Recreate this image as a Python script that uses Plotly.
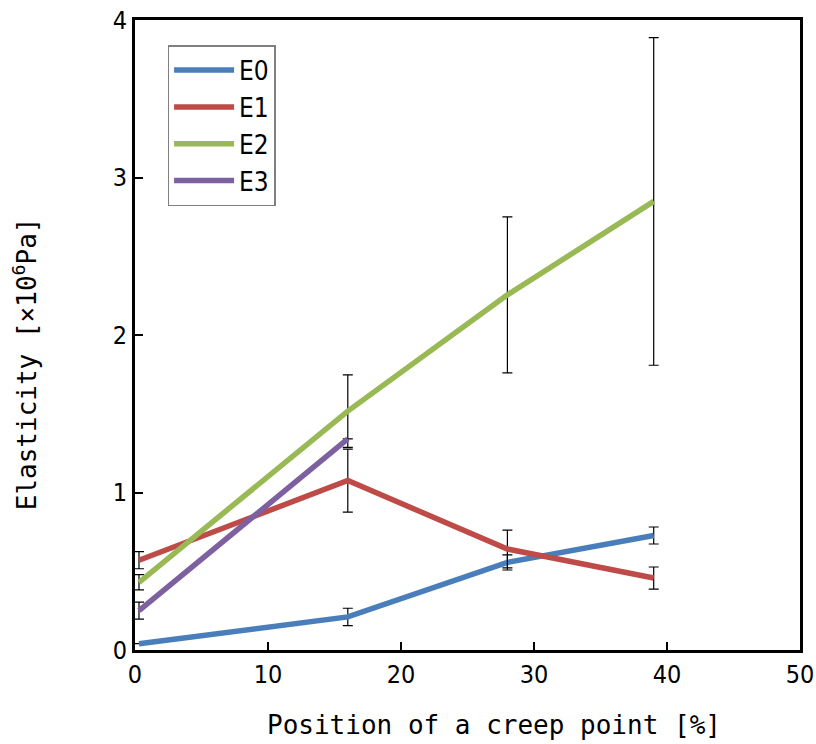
import plotly.graph_objects as go

# Elastic moduli at each creep-point position (values in 10^6 Pa)
positions = [0.3, 16, 28, 39]
positions_e3 = [0.3, 16]

e0 = [0.04, 0.21, 0.556, 0.727]
e0_err = [0.0, 0.055, 0.048, 0.054]

e1 = [0.57, 1.076, 0.641, 0.457]
e1_err = [0.054, 0.20, 0.12, 0.07]

e2 = [0.43, 1.517, 2.255, 2.848]
e2_err = [0.048, 0.23, 0.495, 1.04]

e3 = [0.25, 1.34]
e3_err = [0.054, 0.0]

series = [
    ("E0", positions, e0, e0_err, "#4A7EBB"),
    ("E1", positions, e1, e1_err, "#BE4B48"),
    ("E2", positions, e2, e2_err, "#98B954"),
    ("E3", positions_e3, e3, e3_err, "#7D60A0"),
]

x_ticks = [0, 10, 20, 30, 40, 50]
y_ticks = [0, 1, 2, 3, 4]

x_title = "Position of a creep point [%]"
y_title = "Elasticity [×10<sup>6</sup>Pa]"

tick_font = dict(family="Liberation Sans Narrow, DejaVu Sans Condensed, sans-serif", size=25, color="black")
title_font = dict(family="DejaVu Sans Mono, Liberation Mono, monospace", size=26, color="black")

fig = go.Figure()
for name, xs, ys, errs, color in series:
    fig.add_trace(go.Scatter(
        x=xs, y=ys, name=name, mode="lines",
        line=dict(color=color, width=5.5),
        error_y=dict(type="data", array=errs, visible=True,
                     color="black", thickness=1.2, width=5),
    ))

fig.update_layout(
    width=816, height=744,
    margin=dict(l=135, r=16, t=20, b=94, autoexpand=False),
    paper_bgcolor="white", plot_bgcolor="white",
    showlegend=True,
    legend=dict(
        x=0.049, y=0.96, xanchor="left", yanchor="top",
        bgcolor="white", bordercolor="#7f7f7f", borderwidth=1.5,
        font=dict(family="Liberation Sans Narrow, DejaVu Sans Condensed, sans-serif", size=26, color="black"),
        itemwidth=60,
    ),
    annotations=[
        dict(text=x_title, xref="paper", yref="paper", x=0.540, y=-0.119,
             xanchor="center", yanchor="middle", showarrow=False, font=title_font),
        dict(text=y_title, xref="paper", yref="paper", x=-0.165, y=0.454,
             xanchor="center", yanchor="middle", showarrow=False, textangle=-90, font=title_font),
    ],
)

fig.update_xaxes(
    range=[0, 50], tickvals=x_ticks, ticktext=[str(v) for v in x_ticks],
    showgrid=False, zeroline=False, automargin=False,
    showline=True, linecolor="black", linewidth=3, mirror=True,
    ticks="inside", ticklen=8, tickwidth=2, tickcolor="black",
    tickfont=tick_font, ticklabeloverflow="allow",
)
fig.update_yaxes(
    range=[0, 4], tickvals=y_ticks, ticktext=[str(v) for v in y_ticks],
    showgrid=False, zeroline=False, automargin=False,
    showline=True, linecolor="black", linewidth=3, mirror=True,
    ticks="inside", ticklen=8, tickwidth=2, tickcolor="black",
    tickfont=tick_font, ticklabeloverflow="allow",
)

fig.write_html("out.html")
